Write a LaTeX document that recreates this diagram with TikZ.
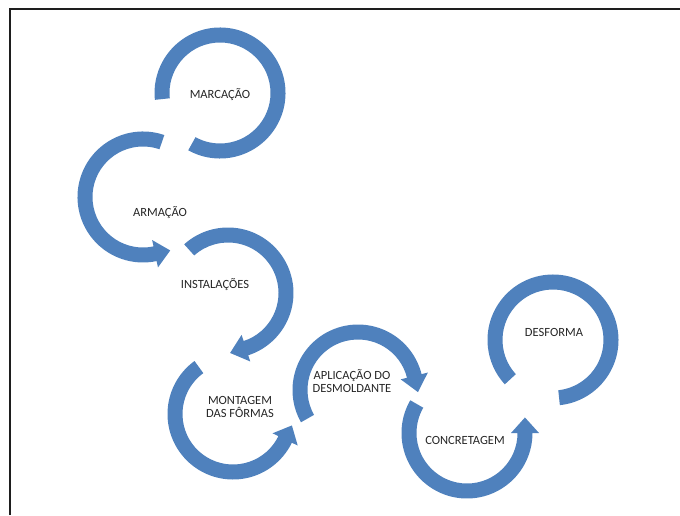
\documentclass[tikz,border=0pt]{standalone}
\usepackage{fontspec}
\setmainfont{Carlito}
\usetikzlibrary{calc}

\definecolor{ringblue}{RGB}{79,129,189}
\definecolor{textgray}{RGB}{38,38,38}
\definecolor{framegray}{RGB}{30,30,30}

% ring band: centre, start angle, end angle
\newcommand{\ringband}[3]{%
  \fill[ringblue] ($(#1)+(#2:65.5)$) arc[start angle=#2,end angle=#3,radius=65.5]
    -- ($(#1)+(#3:50.5)$) arc[start angle=#3,end angle=#2,radius=50.5] -- cycle;}
% ring band with arrow head: centre, start angle, end angle, tip angle
\newcommand{\ringarrow}[4]{%
  \fill[ringblue] ($(#1)+(#2:65.5)$) arc[start angle=#2,end angle=#3,radius=65.5]
    -- ($(#1)+(#3:72)$) -- ($(#1)+(#4:60)$) -- ($(#1)+(#3:44)$)
    -- ($(#1)+(#3:50.5)$) arc[start angle=#3,end angle=#2,radius=50.5] -- cycle;}

\begin{document}
\begin{tikzpicture}[x=1pt,y=1pt,
    stagetext/.style={font=\fontsize{12.5}{13.5}\selectfont,text=textgray,align=center,inner sep=0pt}]
    \useasboundingbox (0,0) rectangle (680,515);
    \draw[line width=1.8pt,framegray] (10,0) -- (10,506) -- (680,506);

    % centres of the rings
    \coordinate (C1) at (220,422);
    \coordinate (C2) at (143,318);
    \coordinate (C3) at (228,222);
    \coordinate (C4) at (233,101);
    \coordinate (C5) at (358,125);
    \coordinate (C6) at (467,82);
    \coordinate (C7) at (553,175);

    \ringband{C1}{-119}{186}
    \ringarrow{C2}{71}{282}{297}
    \ringarrow{C3}{132}{-72}{-88}
    \ringarrow{C4}{126}{334}{349}
    \ringarrow{C5}{209.5}{14}{-2}
    \ringarrow{C6}{150}{360}{15}
    \ringband{C7}{-84}{222.6}

    \node[stagetext] (marcacao) at (220,420) {MARCAÇÃO};
    \node[stagetext] (armacao) at (160,302) {ARMAÇÃO};
    \node[stagetext] (instalacoes) at (215,230) {INSTALAÇÕES};
    \node[stagetext] (montagem) at (240,108) {MONTAGEM\\DAS FÔRMAS};
    \node[stagetext] (aplicacao) at (352,134) {APLICAÇÃO DO\\DESMOLDANTE};
    \node[stagetext] (concretagem) at (465,75) {CONCRETAGEM};
    \node[stagetext] (desforma) at (554,183) {DESFORMA};
\end{tikzpicture}
\end{document}
